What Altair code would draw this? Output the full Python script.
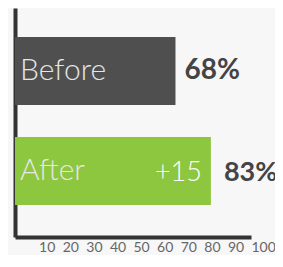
import altair as alt
import pandas as pd

categories = ["Before", "After"]
values = [68, 83]
pct_labels = ["68%", "83%"]
delta_labels = ["", "+15"]
bar_colors = ["#4f4f4f", "#8dc63f"]
tick_values = [10, 20, 30, 40, 50, 60, 70, 80, 90, 100]

df = pd.DataFrame({"cat": categories, "value": values, "pct": pct_labels, "delta": delta_labels})

FONT = "Lato"

x_scale = alt.Scale(domain=[0, 100], nice=False, zero=True)
x_axis = alt.Axis(values=tick_values, title=None)
x_enc = alt.X("value:Q", scale=x_scale, axis=x_axis)
y_enc = alt.Y("cat:N", sort=categories,
              scale=alt.Scale(paddingInner=0.32, paddingOuter=0.305, align=0.475),
              axis=alt.Axis(title=None, labels=False))

base = alt.Chart(df)

bars = base.mark_bar().encode(
    x=x_enc, y=y_enc,
    color=alt.Color("cat:N", scale=alt.Scale(domain=categories, range=bar_colors), legend=None),
)

names = base.mark_text(align="left", baseline="alphabetic", dx=5, dy=9, font=FONT,
                       fontWeight=300, fontSize=30, color="#e6e6e6").encode(
    x=alt.X(datum=0, type="quantitative", scale=x_scale, axis=x_axis), y=y_enc, text="cat:N")

deltas = base.mark_text(align="right", baseline="alphabetic", dx=-9, dy=10, font=FONT,
                        fontWeight=300, fontSize=27, color="#ffffff").encode(
    x=x_enc, y=y_enc, text="delta:N")

pct_before = base.transform_filter(alt.datum.cat == "Before").mark_text(
    align="left", baseline="alphabetic", dx=9, dy=8, font=FONT, fontWeight="bold",
    fontSize=28, color="#444444").encode(
    x=x_enc, y=y_enc, text="pct:N")

pct_after = base.transform_filter(alt.datum.cat == "After").mark_text(
    align="left", baseline="alphabetic", dx=13, dy=10, font=FONT, fontWeight="bold",
    fontSize=27, color="#444444").encode(
    x=x_enc, y=y_enc, text="pct:N")

chart = alt.layer(bars, names, deltas, pct_before, pct_after).properties(
    width=236, height=229,
    autosize=alt.AutoSizeParams(type="none"),
    padding={"left": 7, "top": 0, "right": 24, "bottom": 18},
    background="#f7f7f7",
).configure_view(stroke=None).configure_axis(
    grid=False, ticks=False, domainColor="#333333", domainWidth=4, zindex=1,
    labelFont=FONT, labelFontSize=14, labelColor="#666666",
    labelOverlap=False, labelFlush=False, labelBound=False,
).configure_axisX(
    labelAlign="left", labelBaseline="top", labelPadding=3,
)

chart.save("out.html", embed_options={"renderer": "svg", "actions": False})
